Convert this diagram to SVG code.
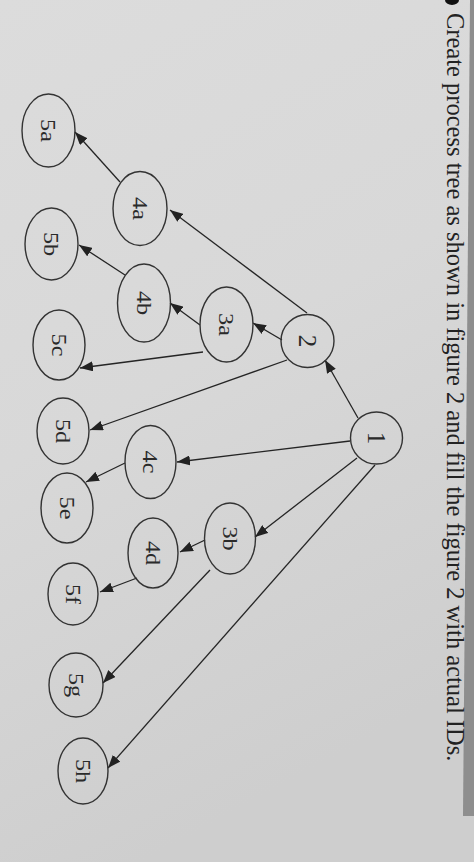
<svg xmlns="http://www.w3.org/2000/svg" width="474" height="862" viewBox="0 0 474 862">
<defs>
<linearGradient id="bg" x1="0" y1="0" x2="0.3" y2="1">
<stop offset="0" stop-color="#dcdcdc"/>
<stop offset="0.5" stop-color="#d8d8d8"/>
<stop offset="1" stop-color="#cecece"/>
</linearGradient>
<marker id="arr" markerUnits="userSpaceOnUse" markerWidth="13" markerHeight="10" refX="13" refY="5" orient="auto">
<path d="M0,0 L13,5 L0,10 z" fill="#222"/>
</marker>
<style>
.n { fill: none; stroke: #333; stroke-width: 1.4; }
.l { font-family: "Liberation Serif", "Times New Roman", serif; font-size: 22px; fill: #2a2a2a; text-anchor: middle; }
.c { font-size: 25px; }
.e { stroke: #252525; stroke-width: 1.3; fill: none; marker-end: url(#arr); }
.t { font-family: "Liberation Serif", "Times New Roman", serif; font-size: 24.5px; fill: #222; }
</style>
</defs>
<rect width="474" height="862" fill="url(#bg)"/>
<polygon points="470,0 474,0 474,816 463,816" fill="#8e8e8e"/>
<ellipse cx="452" cy="0" rx="7" ry="5" fill="#111"/>
<text class="t" transform="translate(447,13) rotate(90)">Create process tree as shown in figure 2 and fill the figure 2 with actual IDs.</text>
<g id="connectors">
<line class="e" x1="358" y1="418" x2="325" y2="360"/>
<line class="e" x1="350" y1="441" x2="177" y2="462"/>
<line class="e" x1="357" y1="458" x2="255" y2="537"/>
<line class="e" x1="375" y1="465" x2="108" y2="768"/>
<line class="e" x1="307" y1="313" x2="170" y2="210"/>
<line class="e" x1="282" y1="340" x2="253" y2="323"/>
<line class="e" x1="287" y1="360" x2="90" y2="430"/>
<line class="e" x1="200" y1="325" x2="170" y2="303"/>
<line class="e" x1="203" y1="352" x2="80" y2="368"/>
<line class="e" x1="120" y1="182" x2="75" y2="132"/>
<line class="e" x1="125" y1="275" x2="79" y2="245"/>
<line class="e" x1="125" y1="463" x2="86" y2="482"/>
<line class="e" x1="205" y1="540" x2="180" y2="552"/>
<line class="e" x1="210" y1="570" x2="103" y2="683"/>
<line class="e" x1="137" y1="578" x2="100" y2="592"/>
</g>
<g id="n1"><circle class="n" cx="376.5" cy="438" r="26"/><text class="l c" transform="translate(368,438) rotate(90)">1</text></g>
<g id="n2"><circle class="n" cx="307.5" cy="341" r="26.5"/><text class="l c" transform="translate(299,341) rotate(90)">2</text></g>
<g id="n3a"><ellipse class="n" cx="226.5" cy="324.5" rx="26.5" ry="37.5"/><text class="l" transform="translate(219,324.5) rotate(90) scale(1.1,1)">3a</text></g>
<g id="n3b"><ellipse class="n" cx="230" cy="538.5" rx="25.5" ry="35.5"/><text class="l" transform="translate(222.5,538.5) rotate(90) scale(1.1,1)">3b</text></g>
<g id="n4a"><ellipse class="n" cx="140" cy="208.5" rx="27" ry="37"/><text class="l" transform="translate(132.5,208.5) rotate(90) scale(1.1,1)">4a</text></g>
<g id="n4b"><ellipse class="n" cx="144" cy="303" rx="26.5" ry="39"/><text class="l" transform="translate(136.5,303) rotate(90) scale(1.1,1)">4b</text></g>
<g id="n4c"><ellipse class="n" cx="150.5" cy="462" rx="25.5" ry="36.5"/><text class="l" transform="translate(143,462) rotate(90) scale(1.1,1)">4c</text></g>
<g id="n4d"><ellipse class="n" cx="153" cy="553" rx="25" ry="35"/><text class="l" transform="translate(145.5,553) rotate(90) scale(1.1,1)">4d</text></g>
<g id="n5a"><ellipse class="n" cx="48.5" cy="130.5" rx="26.5" ry="36.5"/><text class="l" transform="translate(41,130.5) rotate(90) scale(1.1,1)">5a</text></g>
<g id="n5b"><ellipse class="n" cx="51.5" cy="244" rx="26.5" ry="36"/><text class="l" transform="translate(44,244) rotate(90) scale(1.1,1)">5b</text></g>
<g id="n5c"><ellipse class="n" cx="59" cy="345" rx="26" ry="35"/><text class="l" transform="translate(51.5,345) rotate(90) scale(1.1,1)">5c</text></g>
<g id="n5d"><ellipse class="n" cx="63" cy="431" rx="26" ry="33"/><text class="l" transform="translate(55.5,431) rotate(90) scale(1.1,1)">5d</text></g>
<g id="n5e"><ellipse class="n" cx="67" cy="508" rx="26" ry="35"/><text class="l" transform="translate(59.5,508) rotate(90) scale(1.1,1)">5e</text></g>
<g id="n5f"><ellipse class="n" cx="73" cy="594" rx="25" ry="31"/><text class="l" transform="translate(65.5,594) rotate(90) scale(1.1,1)">5f</text></g>
<g id="n5g"><ellipse class="n" cx="76" cy="685" rx="27" ry="32"/><text class="l" transform="translate(68.5,685) rotate(90) scale(1.1,1)">5g</text></g>
<g id="n5h"><ellipse class="n" cx="83" cy="771" rx="25" ry="33"/><text class="l" transform="translate(75.5,771) rotate(90) scale(1.1,1)">5h</text></g>
</svg>
